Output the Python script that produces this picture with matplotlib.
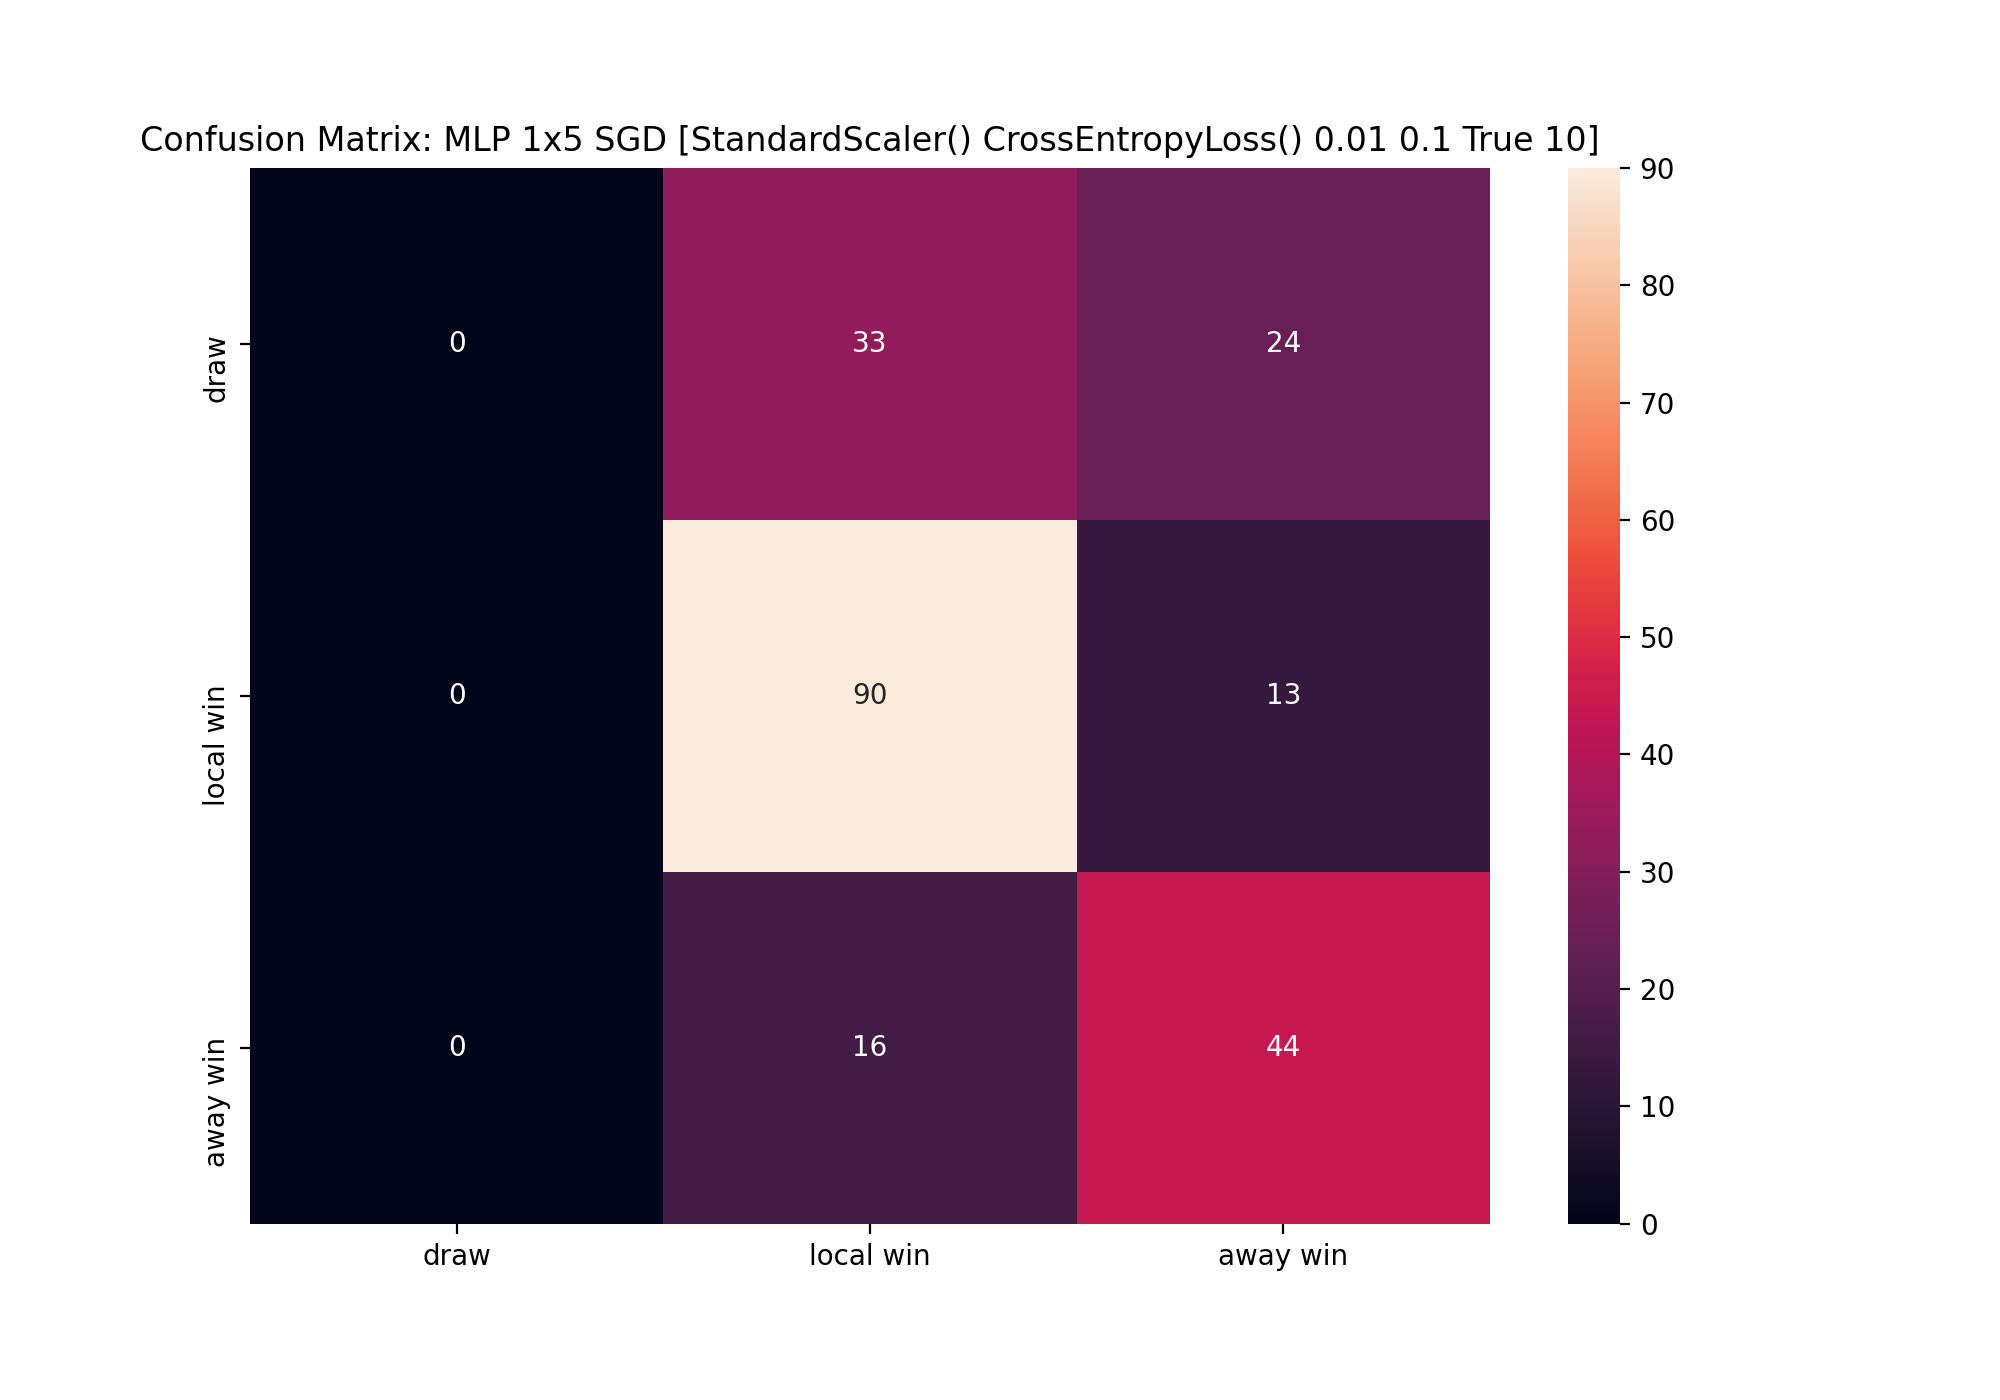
import numpy as np
import matplotlib
matplotlib.use('Agg')
import matplotlib.pyplot as plt
import seaborn as sns

# Class labels and confusion matrix counts (rows = true, cols = predicted)
labels = ['draw', 'local win', 'away win']
row_draw = [0, 33, 24]
row_local = [0, 90, 13]
row_away = [0, 16, 44]

cm = np.array([row_draw, row_local, row_away])

title = 'Confusion Matrix: MLP 1x5 SGD [StandardScaler() CrossEntropyLoss() 0.01 0.1 True 10]'

fig, ax = plt.subplots(figsize=(10, 7), dpi=200)
fig.subplots_adjust(bottom=0.126)
sns.heatmap(cm, annot=True, fmt='d', xticklabels=labels, yticklabels=labels, ax=ax)
ax.set_title(title)

# vertical tick labels hang down from the tick, like the original
for t in ax.get_yticklabels():
    t.set_rotation(90)
    t.set_va('center_baseline')

plt.savefig('out.png')
